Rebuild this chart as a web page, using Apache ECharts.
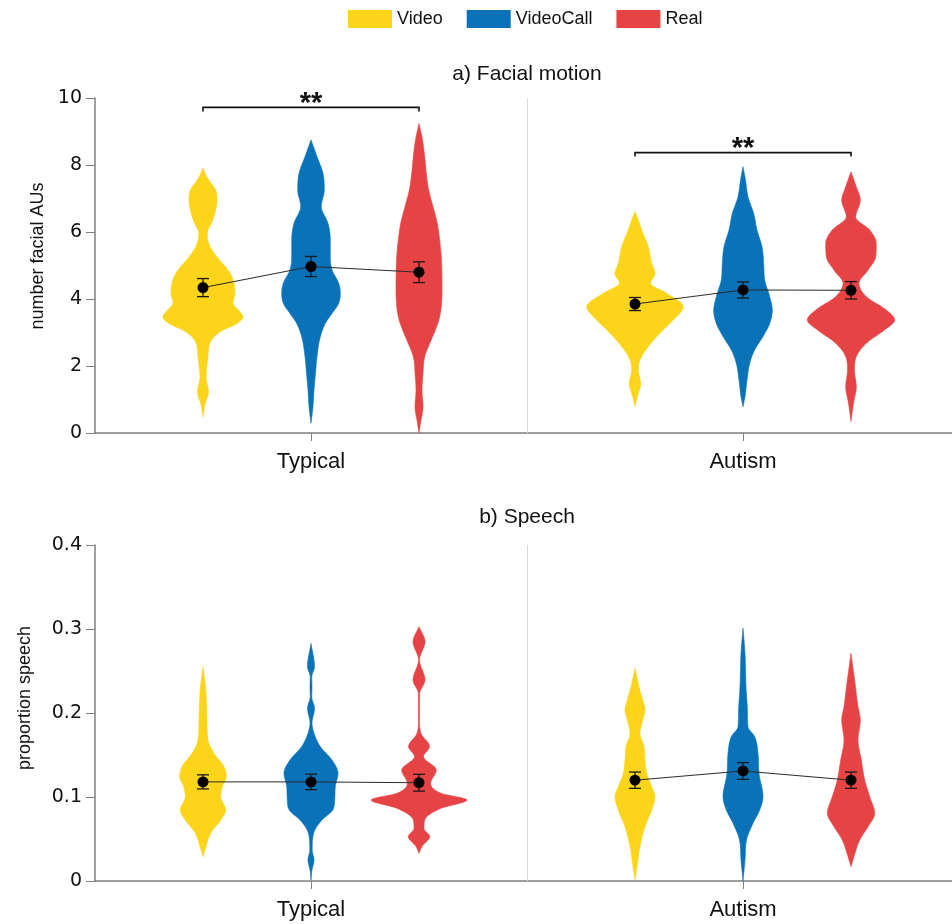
<!DOCTYPE html>
<html>
<head>
<meta charset="utf-8">
<title>Facial motion and speech by condition</title>
<script src="https://cdn.jsdelivr.net/npm/echarts@6.0.0/dist/echarts.min.js"></script>
<style>
  html, body { margin: 0; padding: 0; background: #fff; }
  #chart { width: 952px; height: 924px; }
</style>
</head>
<body>
<div id="chart"></div>
<script>
// ---- categories ----
const groups = ['Typical', 'Autism'];
const conditions = ['Video', 'VideoCall', 'Real'];

// ---- tick labels ----
const facialTicks = [0, 2, 4, 6, 8, 10];
const speechTicks = [0, 0.1, 0.2, 0.3, 0.4];

// ---- violin density profiles: [value, density] ----
// Facial motion (number of facial AUs)
const facialTypicalVideo = [[0.48,0],[0.85,0.2],[1.22,0.55],[1.67,0.3],[2.0,0.4],[2.3,0.5],[2.69,0.7],[2.9,1.2],[3.07,2.0],[3.25,3.3],[3.46,4.0],[3.65,3.6],[3.88,3.0],[4.18,3.2],[4.66,2.9],[4.96,2.25],[5.25,1.4],[5.64,0.6],[5.97,0.43],[6.3,0.9],[6.7,1.3],[6.96,1.4],[7.25,1.27],[7.5,0.7],[7.7,0.3],[7.91,0]];
const facialTypicalVideoCall = [[0.29,0],[0.79,0.2],[1.28,0.3],[1.78,0.45],[2.28,0.6],[2.87,0.93],[3.27,1.43],[3.57,2.1],[3.87,2.77],[4.17,2.93],[4.47,2.77],[4.87,2.1],[5.26,1.93],[5.76,1.93],[6.26,1.7],[6.76,1.03],[7.25,1.33],[7.75,1.2],[8.25,0.6],[8.75,0]];
const facialTypicalReal = [[0,0],[0.29,0.15],[0.79,0.4],[1.28,0.3],[1.78,0.4],[2.28,0.57],[2.67,1.07],[3.07,1.63],[3.47,2.07],[4.27,2.3],[5.26,2.23],[5.76,2.07],[6.26,1.83],[6.76,1.4],[7.25,0.97],[7.75,0.73],[8.25,0.57],[8.75,0.35],[9.24,0]];
const facialAutismVideo = [[0.78,0],[1.08,0.23],[1.48,0.57],[1.88,0.33],[2.18,0.5],[2.58,1.33],[3.08,2.83],[3.37,3.83],[3.77,4.83],[4.17,3.17],[4.47,1.57],[4.76,2.0],[5.06,1.67],[5.56,1.33],[6.06,0.67],[6.36,0.33],[6.61,0]];
const facialAutismVideoCall = [[0.78,0],[1.08,0.2],[1.58,0.4],[2.08,0.67],[2.48,1.17],[2.88,2.0],[3.27,2.67],[3.67,2.93],[4.07,2.67],[4.57,2.17],[5.06,2.07],[5.56,1.9],[6.06,1.4],[6.55,1.07],[7.05,0.5],[7.55,0.25],[7.95,0]];
const facialAutismReal = [[0.34,0],[0.89,0.25],[1.38,0.53],[1.88,0.35],[2.28,0.53],[2.68,1.53],[3.08,3.37],[3.37,4.37],[3.67,3.53],[4.07,1.53],[4.47,0.8],[4.86,1.7],[5.26,2.47],[5.66,2.53],[6.06,1.87],[6.45,0.47],[6.95,0.93],[7.35,0.53],[7.8,0]];

// Speech (proportion of time speaking)
const speechTypicalVideo = [[0.029,0],[0.041,0.3],[0.057,0.77],[0.0726,1.77],[0.0845,2.27],[0.1004,1.77],[0.1123,1.93],[0.1242,2.33],[0.1361,2.1],[0.152,1.1],[0.168,0.5],[0.192,0.4],[0.231,0.25],[0.255,0]];
const speechTypicalVideoCall = [[0.001,0],[0.013,0.1],[0.025,0.3],[0.037,0.12],[0.049,0.15],[0.061,0.4],[0.0726,1.1],[0.0845,2.17],[0.0964,2.37],[0.1123,2.43],[0.1282,2.7],[0.144,2.1],[0.16,0.93],[0.176,0.3],[0.188,0.1],[0.2056,0.35],[0.219,0.08],[0.2314,0.1],[0.243,0.08],[0.2552,0.35],[0.2829,0]];
const speechTypicalReal = [[0.033,0],[0.041,0.3],[0.0528,1.07],[0.0626,0.5],[0.0726,0.57],[0.0865,2.2],[0.0964,4.8],[0.1044,2.2],[0.1163,1.17],[0.1321,1.73],[0.148,0.45],[0.16,1.05],[0.1758,0.2],[0.1917,0.05],[0.2234,0.07],[0.2393,0.6],[0.2631,0.05],[0.2671,0.1],[0.2849,0.6],[0.3028,0]];
const speechAutismVideo = [[0.001,0],[0.017,0.2],[0.041,0.5],[0.0647,1.0],[0.0845,1.67],[0.1004,2.0],[0.1123,1.67],[0.1282,1.17],[0.144,1.0],[0.16,0.9],[0.1758,0.5],[0.1917,0.77],[0.2036,1.0],[0.2155,0.77],[0.2314,0.4],[0.2532,0]];
const speechAutismVideoCall = [[0,0],[0.025,0.2],[0.0488,0.35],[0.0687,1.0],[0.0845,1.67],[0.1004,2.0],[0.1282,1.6],[0.152,1.5],[0.1718,1.17],[0.1837,0.5],[0.1996,0.45],[0.2314,0.3],[0.271,0.2],[0.3008,0]];
const speechAutismReal = [[0.017,0],[0.0329,0.4],[0.0488,0.87],[0.0647,1.7],[0.0806,2.37],[0.1004,1.87],[0.1202,1.37],[0.144,1.03],[0.1679,0.7],[0.1917,0.93],[0.2075,0.7],[0.2314,0.45],[0.271,0]];

// ---- condition means and standard errors ----
const facialMeanTypical = [4.34, 4.97, 4.80];
const facialSeTypical = [0.27, 0.30, 0.31];
const facialMeanAutism = [3.85, 4.27, 4.26];
const facialSeAutism = [0.195, 0.24, 0.26];

const speechMeanTypical = [0.118, 0.118, 0.117];
const speechSeTypical = [0.0084, 0.0092, 0.010];
const speechMeanAutism = [0.120, 0.131, 0.120];
const speechSeAutism = [0.0097, 0.010, 0.0097];

// ---- significance comparisons: [group, fromCondition, toCondition, value, label] ----
const facialSignificance = [[0, 0, 2, 9.72, '**'], [1, 0, 2, 8.37, '**']];

// ---------------------------------------------------------------
const COLORS = ['#FCD419', '#0972B8', '#E64345'];
const FONT = 'Liberation Sans';
const TICK_FONT = 'DejaVu Sans';
const AXIS_GRAY = '#7f7f7f';
const UNIT_PX = 432;                 // pixels per x-axis unit (one group band)
const PLOT_LEFT = 95;
const PLOT_WIDTH = 952 - PLOT_LEFT;  // axis runs to the right edge
const X_MAX = PLOT_WIDTH / UNIT_PX;
const DENS_TO_X = 10 / UNIT_PX;      // density unit -> x-axis units

const facialProfiles = [
  [facialTypicalVideo, facialTypicalVideoCall, facialTypicalReal],
  [facialAutismVideo, facialAutismVideoCall, facialAutismReal]
];
const speechProfiles = [
  [speechTypicalVideo, speechTypicalVideoCall, speechTypicalReal],
  [speechAutismVideo, speechAutismVideoCall, speechAutismReal]
];

function xPos(g, c) { return g + 0.5 + (c - 1) * 0.25; }

// Monotone cubic (Fritsch–Carlson) resampling of a density profile for smooth outlines
function smoothProfile(pts, steps) {
  const n = pts.length;
  const xs = pts.map(p => p[0]), ys = pts.map(p => p[1]);
  const dx = [], s = [], m = [];
  for (let i = 0; i < n - 1; i++) { dx[i] = xs[i + 1] - xs[i]; s[i] = (ys[i + 1] - ys[i]) / dx[i]; }
  m[0] = s[0]; m[n - 1] = s[n - 2];
  for (let i = 1; i < n - 1; i++) m[i] = s[i - 1] * s[i] <= 0 ? 0 : (s[i - 1] + s[i]) / 2;
  for (let i = 0; i < n - 1; i++) {
    if (s[i] === 0) { m[i] = 0; m[i + 1] = 0; continue; }
    const a = m[i] / s[i], b = m[i + 1] / s[i];
    const h = a * a + b * b;
    if (h > 9) { const t = 3 / Math.sqrt(h); m[i] = t * a * s[i]; m[i + 1] = t * b * s[i]; }
  }
  const out = [];
  for (let i = 0; i < n - 1; i++) {
    const h = dx[i];
    for (let k = 0; k < steps; k++) {
      const t = k / steps, t2 = t * t, t3 = t2 * t;
      const y = (2 * t3 - 3 * t2 + 1) * ys[i] + (t3 - 2 * t2 + t) * h * m[i]
              + (-2 * t3 + 3 * t2) * ys[i + 1] + (t3 - t2) * h * m[i + 1];
      out.push([xs[i] + t * h, Math.max(0, y)]);
    }
  }
  out.push(pts[n - 1]);
  return out;
}

function violinSeries(profiles, cond, axisIndex) {
  return {
    type: 'custom',
    name: conditions[cond],
    xAxisIndex: axisIndex, yAxisIndex: axisIndex,
    itemStyle: { color: COLORS[cond] },
    silent: true,
    z: 2,
    data: groups.map((_, g) => [g]),
    renderItem: function (params, api) {
      const g = api.value(0);
      const xc = xPos(g, cond);
      const pts = smoothProfile(profiles[g][cond], 10);
      const right = [], left = [];
      pts.forEach(([v, d]) => {
        const hw = d * DENS_TO_X;
        right.push(api.coord([xc + hw, v]));
        left.push(api.coord([xc - hw, v]));
      });
      return {
        type: 'polygon',
        shape: { points: right.concat(left.reverse()) },
        style: { fill: api.visual('color'), stroke: api.visual('color'), lineWidth: 0.6 }
      };
    }
  };
}

function errorBarSeries(means, ses, g, axisIndex) {
  return {
    type: 'custom',
    xAxisIndex: axisIndex, yAxisIndex: axisIndex,
    silent: true, z: 4,
    data: means.map((m, c) => [xPos(g, c), m - ses[c], m + ses[c]]),
    renderItem: function (params, api) {
      const lo = api.coord([api.value(0), api.value(1)]);
      const hi = api.coord([api.value(0), api.value(2)]);
      const cap = 6;
      const st = { stroke: '#1a1a1a', lineWidth: 1.3 };
      return {
        type: 'group',
        children: [
          { type: 'line', shape: { x1: lo[0], y1: lo[1], x2: hi[0], y2: hi[1] }, style: st },
          { type: 'line', shape: { x1: lo[0] - cap, y1: lo[1], x2: lo[0] + cap, y2: lo[1] }, style: st },
          { type: 'line', shape: { x1: hi[0] - cap, y1: hi[1], x2: hi[0] + cap, y2: hi[1] }, style: st }
        ]
      };
    }
  };
}

function meanLineSeries(means, g, axisIndex) {
  return {
    type: 'line',
    xAxisIndex: axisIndex, yAxisIndex: axisIndex,
    silent: true, z: 5,
    data: means.map((m, c) => [xPos(g, c), m]),
    symbol: 'circle', symbolSize: 11, showSymbol: true,
    itemStyle: { color: '#000' },
    lineStyle: { color: '#2b2b2b', width: 1 },
    animation: false
  };
}

function significanceSeries(items, axisIndex) {
  return {
    type: 'custom',
    xAxisIndex: axisIndex, yAxisIndex: axisIndex,
    silent: true, z: 6,
    data: items.map(([g, c1, c2, v, label]) => [xPos(g, c1), xPos(g, c2), v, label]),
    renderItem: function (params, api) {
      const a = api.coord([api.value(0), api.value(2)]);
      const b = api.coord([api.value(1), api.value(2)]);
      const drop = 4;
      return {
        type: 'group',
        children: [
          { type: 'polyline',
            shape: { points: [[a[0], a[1] + drop], [a[0], a[1]], [b[0], b[1]], [b[0], b[1] + drop]] },
            style: { stroke: '#111', lineWidth: 1.6, fill: null } },
          { type: 'text', x: (a[0] + b[0]) / 2, y: a[1] + 11,
            style: { text: api.value(3), fill: '#111', fontSize: 29, fontWeight: 'bold',
                     fontFamily: FONT, align: 'center', verticalAlign: 'bottom' } }
        ]
      };
    }
  };
}

function dividerSeries(axisIndex) {
  return {
    type: 'line', data: [], xAxisIndex: axisIndex, yAxisIndex: axisIndex, silent: true, z: 1,
    markLine: {
      silent: true, symbol: 'none', animation: false,
      label: { show: false },
      lineStyle: { color: '#d9d9d9', width: 1, type: 'solid' },
      data: [{ xAxis: 1 }]
    }
  };
}

function xAxisFor(gridIndex) {
  return {
    type: 'value', gridIndex: gridIndex, min: 0, max: X_MAX,
    axisLine: { show: true, lineStyle: { color: AXIS_GRAY, width: 1.5 } },
    axisTick: { show: true, customValues: [0.5, 1.5], length: 8, lineStyle: { color: AXIS_GRAY, width: 1 } },
    axisLabel: {
      customValues: [0.5, 1.5], margin: 18, fontSize: 22, color: '#111', fontFamily: FONT,
      formatter: v => groups[Math.round(v - 0.5)]
    },
    splitLine: { show: false }
  };
}

function yAxisFor(gridIndex, ticks, name, gap, shift) {
  return {
    type: 'value', gridIndex: gridIndex,
    min: ticks[0], max: ticks[ticks.length - 1], interval: ticks[1] - ticks[0],
    axisLine: { show: true, lineStyle: { color: AXIS_GRAY, width: 1.5 } },
    axisTick: { show: true, length: 9, lineStyle: { color: AXIS_GRAY, width: 1 } },
    axisLabel: { fontSize: 19, color: '#111', margin: 13, fontFamily: TICK_FONT },
    splitLine: { show: false },
    name: name, nameLocation: 'middle', nameGap: gap,
    nameTextStyle: { fontSize: 18, color: '#111', fontFamily: FONT, padding: [0, 0, 0, shift] }
  };
}

const chart = echarts.init(document.getElementById('chart'), null, { renderer: 'canvas' });

const series = [];
[0, 1].forEach(ai => series.push(dividerSeries(ai)));
conditions.forEach((_, c) => series.push(violinSeries(facialProfiles, c, 0)));
conditions.forEach((_, c) => series.push(violinSeries(speechProfiles, c, 1)));
series.push(errorBarSeries(facialMeanTypical, facialSeTypical, 0, 0));
series.push(errorBarSeries(facialMeanAutism, facialSeAutism, 1, 0));
series.push(errorBarSeries(speechMeanTypical, speechSeTypical, 0, 1));
series.push(errorBarSeries(speechMeanAutism, speechSeAutism, 1, 1));
series.push(meanLineSeries(facialMeanTypical, 0, 0));
series.push(meanLineSeries(facialMeanAutism, 1, 0));
series.push(meanLineSeries(speechMeanTypical, 0, 1));
series.push(meanLineSeries(speechMeanAutism, 1, 1));
series.push(significanceSeries(facialSignificance, 0));

chart.setOption({
  animation: false,
  backgroundColor: '#fff',
  textStyle: { fontFamily: FONT },
  legend: {
    data: conditions,
    left: 348, top: 10, padding: 0,
    icon: 'rect', itemWidth: 44, itemHeight: 18, itemGap: 24,
    textStyle: { fontSize: 18, color: '#111', fontFamily: FONT },
    selectedMode: false
  },
  graphic: [
    { type: 'text', x: 527, y: 74, silent: true,
      style: { text: 'a) Facial motion', fontSize: 21, fontFamily: FONT, fill: '#111', align: 'center', verticalAlign: 'middle' } },
    { type: 'text', x: 527, y: 517, silent: true,
      style: { text: 'b) Speech', fontSize: 21, fontFamily: FONT, fill: '#111', align: 'center', verticalAlign: 'middle' } }
  ],
  grid: [
    { left: PLOT_LEFT, top: 98, width: PLOT_WIDTH, height: 335 },
    { left: PLOT_LEFT, top: 545, width: PLOT_WIDTH, height: 336 }
  ],
  xAxis: [xAxisFor(0), xAxisFor(1)],
  yAxis: [
    yAxisFor(0, facialTicks, 'number facial AUs', 42, 19),
    yAxisFor(1, speechTicks, 'proportion speech', 61, 30)
  ],
  series: series
});
</script>
</body>
</html>
